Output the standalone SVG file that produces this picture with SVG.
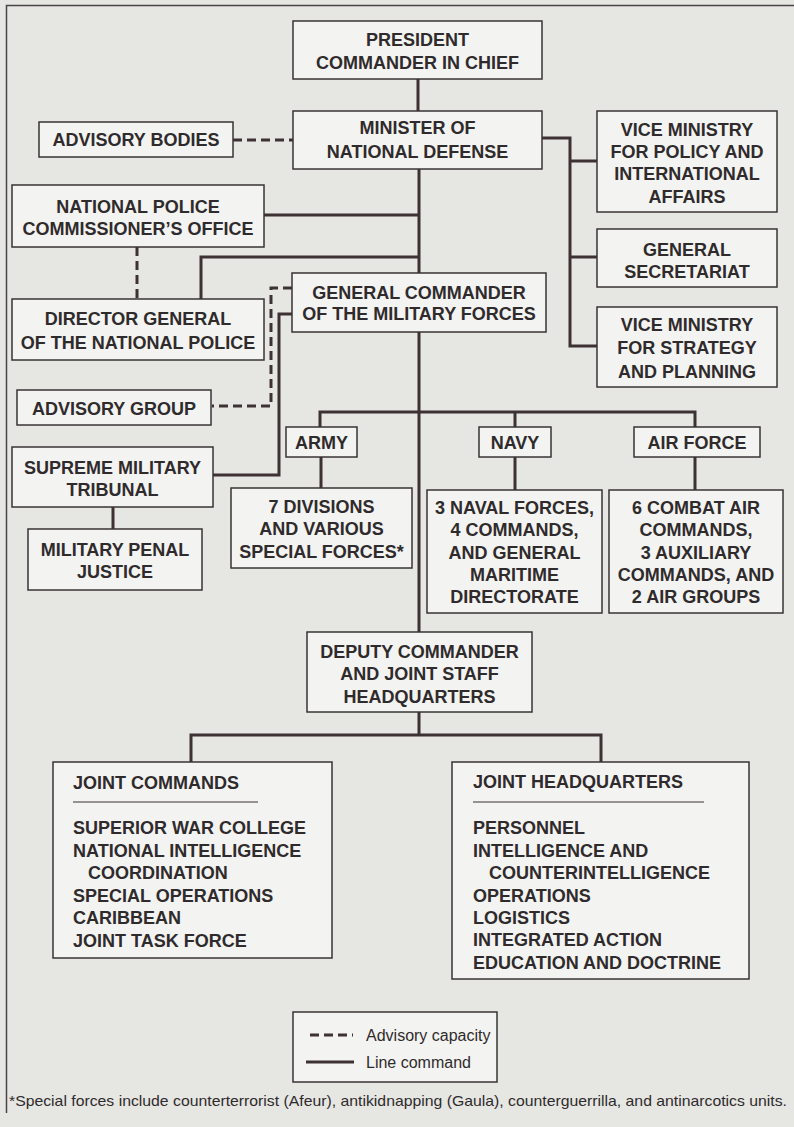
<svg xmlns="http://www.w3.org/2000/svg" width="794" height="1127" viewBox="0 0 794 1127">
<style>
.box{fill:#f3f3f1;stroke:#3a3334;stroke-width:1.5}
.t{font-family:"Liberation Sans",Arial,Helvetica,sans-serif;font-weight:bold;font-size:18px;fill:#2f2b2c;text-anchor:middle}
.tl{text-anchor:start}
.c{stroke:#3d3133;stroke-width:3;fill:none}
.d{stroke-dasharray:9 5}
.r{font-family:"Liberation Sans",Arial,Helvetica,sans-serif;font-size:16px;fill:#2f2b2c}
.fn{font-family:"Liberation Sans",Arial,Helvetica,sans-serif;font-size:15px;fill:#2f2b2c}
</style>
<rect x="0" y="0" width="794" height="1127" fill="#e6e6e3"/>
<path d="M6.5,1113 V5.5 H794" fill="none" stroke="#4a4546" stroke-width="1.5"/>

<g id="connectors">
<path class="c" d="M418,79 V111"/>
<path class="c" d="M419,169 V273 M419,332 V632"/>
<path class="c" d="M264,215 H419"/>
<path class="c" d="M419,257 H201 V299"/>
<path class="c" d="M542,138 H570 V346 H597 M570,161 H597 M570,257 H597"/>
<path class="c" d="M292,314 H279 V475 H213"/>
<path class="c" d="M320,427 V412 H695 V427 M515,412 V427"/>
<path class="c" d="M321,457 V488 M515,457 V490 M695,457 V490"/>
<path class="c" d="M113,507 V529"/>
<path class="c" d="M419,712 V735 M191,762 V735 H601 V762"/>
<path class="c d" d="M233,140 H293"/>
<path class="c d" d="M137,247 V299"/>
<path class="c d" d="M292,288 H271 V406 H212"/>
</g>

<g id="president"><rect class="box" x="293" y="21" width="249" height="58"/>
<text class="t" x="417.5" y="46">PRESIDENT</text><text class="t" x="417.5" y="69">COMMANDER IN CHIEF</text></g>

<g id="minister"><rect class="box" x="293" y="111" width="249" height="58"/>
<text class="t" x="417.5" y="134">MINISTER OF</text><text class="t" x="417.5" y="158">NATIONAL DEFENSE</text></g>

<g id="advisory-bodies"><rect class="box" x="39" y="122" width="194" height="35"/>
<text class="t" x="136" y="146">ADVISORY BODIES</text></g>

<g id="vm-policy"><rect class="box" x="597" y="111" width="180" height="101"/>
<text class="t" x="687" y="136">VICE MINISTRY</text><text class="t" x="687" y="158">FOR POLICY AND</text><text class="t" x="687" y="180">INTERNATIONAL</text><text class="t" x="687" y="203">AFFAIRS</text></g>

<g id="general-secretariat"><rect class="box" x="597" y="229" width="180" height="58"/>
<text class="t" x="687" y="256">GENERAL</text><text class="t" x="687" y="278">SECRETARIAT</text></g>

<g id="vm-strategy"><rect class="box" x="597" y="307" width="180" height="80"/>
<text class="t" x="687" y="331">VICE MINISTRY</text><text class="t" x="687" y="354">FOR STRATEGY</text><text class="t" x="687" y="378">AND PLANNING</text></g>

<g id="commissioner"><rect class="box" x="12" y="185" width="252" height="62"/>
<text class="t" x="138" y="213">NATIONAL POLICE</text><text class="t" x="138" y="235">COMMISSIONER’S OFFICE</text></g>

<g id="director"><rect class="box" x="12" y="299" width="252" height="61"/>
<text class="t" x="138" y="325">DIRECTOR GENERAL</text><text class="t" x="138" y="349">OF THE NATIONAL POLICE</text></g>

<g id="general-commander"><rect class="box" x="292" y="273" width="254" height="59"/>
<text class="t" x="419" y="299">GENERAL COMMANDER</text><text class="t" x="419" y="320">OF THE MILITARY FORCES</text></g>

<g id="advisory-group"><rect class="box" x="17" y="390" width="194" height="35"/>
<text class="t" x="114" y="415">ADVISORY GROUP</text></g>

<g id="supreme-tribunal"><rect class="box" x="12" y="447" width="201" height="60"/>
<text class="t" x="112.5" y="474">SUPREME MILITARY</text><text class="t" x="112.5" y="496">TRIBUNAL</text></g>

<g id="penal-justice"><rect class="box" x="28" y="529" width="174" height="61"/>
<text class="t" x="115" y="556">MILITARY PENAL</text><text class="t" x="115" y="578">JUSTICE</text></g>

<g id="army"><rect class="box" x="286" y="427" width="71" height="30"/>
<text class="t" x="321.5" y="449">ARMY</text></g>

<g id="navy"><rect class="box" x="479" y="427" width="72" height="30"/>
<text class="t" x="515" y="449">NAVY</text></g>

<g id="air-force"><rect class="box" x="634" y="427" width="126" height="30"/>
<text class="t" x="697" y="449">AIR FORCE</text></g>

<g id="army-units"><rect class="box" x="231" y="488" width="181" height="80"/>
<text class="t" x="321.5" y="513">7 DIVISIONS</text><text class="t" x="321.5" y="535">AND VARIOUS</text><text class="t" x="321.5" y="558">SPECIAL FORCES*</text></g>

<g id="navy-units"><rect class="box" x="427" y="490" width="175" height="123"/>
<text class="t" x="514.5" y="514">3 NAVAL FORCES,</text><text class="t" x="514.5" y="536">4 COMMANDS,</text><text class="t" x="514.5" y="559">AND GENERAL</text><text class="t" x="514.5" y="581">MARITIME</text><text class="t" x="514.5" y="603">DIRECTORATE</text></g>

<g id="air-units"><rect class="box" x="609" y="490" width="174" height="123"/>
<text class="t" x="696" y="514">6 COMBAT AIR</text><text class="t" x="696" y="536">COMMANDS,</text><text class="t" x="696" y="559">3 AUXILIARY</text><text class="t" x="696" y="581">COMMANDS, AND</text><text class="t" x="696" y="603">2 AIR GROUPS</text></g>

<g id="deputy"><rect class="box" x="307" y="632" width="225" height="80"/>
<text class="t" x="419.5" y="658">DEPUTY COMMANDER</text><text class="t" x="419.5" y="680">AND JOINT STAFF</text><text class="t" x="419.5" y="703">HEADQUARTERS</text></g>

<g id="joint-commands"><rect class="box" x="53" y="762" width="279" height="196"/>
<text class="t tl" x="73" y="789">JOINT COMMANDS</text>
<line x1="73" y1="802" x2="258" y2="802" stroke="#3a3334" stroke-width="1.2"/>
<text class="t tl" x="73" y="834">SUPERIOR WAR COLLEGE</text>
<text class="t tl" x="73" y="857">NATIONAL INTELLIGENCE</text>
<text class="t tl" x="88" y="879">COORDINATION</text>
<text class="t tl" x="73" y="902">SPECIAL OPERATIONS</text>
<text class="t tl" x="73" y="924">CARIBBEAN</text>
<text class="t tl" x="73" y="947">JOINT TASK FORCE</text></g>

<g id="joint-headquarters"><rect class="box" x="452" y="762" width="297" height="217"/>
<text class="t tl" x="473" y="788">JOINT HEADQUARTERS</text>
<line x1="473" y1="802" x2="704" y2="802" stroke="#3a3334" stroke-width="1.2"/>
<text class="t tl" x="473" y="834">PERSONNEL</text>
<text class="t tl" x="473" y="857">INTELLIGENCE AND</text>
<text class="t tl" x="489" y="879">COUNTERINTELLIGENCE</text>
<text class="t tl" x="473" y="902">OPERATIONS</text>
<text class="t tl" x="473" y="924">LOGISTICS</text>
<text class="t tl" x="473" y="946">INTEGRATED ACTION</text>
<text class="t tl" x="473" y="969">EDUCATION AND DOCTRINE</text></g>

<g id="legend"><rect class="box" x="293" y="1012" width="204" height="70"/>
<line class="c d" x1="310" y1="1035" x2="353" y2="1035" stroke-dasharray="8 4"/>
<text class="r" x="366" y="1041">Advisory capacity</text>
<line class="c" x1="306" y1="1062" x2="354" y2="1062"/>
<text class="r" x="366" y="1068">Line command</text></g>

<text class="fn" x="9" y="1106" textLength="778" lengthAdjust="spacingAndGlyphs">*Special forces include counterterrorist (Afeur), antikidnapping (Gaula), counterguerrilla, and antinarcotics units.</text>
</svg>
